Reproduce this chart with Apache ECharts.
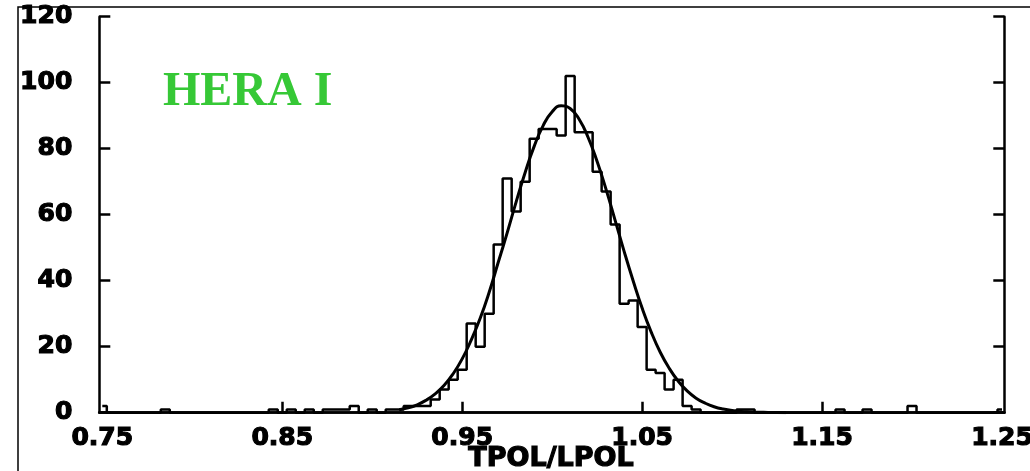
<!DOCTYPE html>
<html>
<head>
<meta charset="utf-8">
<script src="https://cdn.jsdelivr.net/npm/echarts@6/dist/echarts.min.js"></script>
<style>
  html, body { margin: 0; padding: 0; background: #fff; }
  #main { width: 1030px; height: 471px; }
</style>
</head>
<body>
<div id="main"></div>
<script>
// histogram: 101 bins of width 0.005, centres 0.75 ... 1.25
var binStart = 0.75;
var binWidth = 0.005;
var counts = [
  2, 0, 0, 0, 0, 0, 0, 1, 0, 0,
  0, 0, 0, 0, 0, 0, 0, 0, 0, 1,
  0, 1, 0, 1, 0, 1, 1, 1, 2, 0,
  1, 0, 1, 1, 2, 2, 2, 4, 7, 10,
  13, 27, 20, 30, 51, 71, 61, 70, 83, 86,
  86, 84, 102, 85, 85, 73, 67, 57, 33, 34,
  26, 13, 12, 7, 10, 2, 1, 0, 0, 0,
  0, 1, 1, 0, 0, 0, 0, 0, 0, 0,
  0, 0, 1, 0, 0, 1, 0, 0, 0, 0,
  2, 0, 0, 0, 0, 0, 0, 0, 0, 0,
  1
];

// fitted curve
var fitX = [0.915, 0.92, 0.925, 0.93, 0.935, 0.94, 0.945, 0.95, 0.955, 0.96,
            0.965, 0.97, 0.975, 0.98, 0.985, 0.99, 0.995, 1.0, 1.005, 1.01,
            1.015, 1.02, 1.025, 1.03, 1.035, 1.04, 1.045, 1.05, 1.055, 1.06,
            1.065, 1.07, 1.075, 1.08, 1.085, 1.09, 1.095, 1.1, 1.105, 1.11,
            1.115, 1.12, 1.125, 1.13];
var fitY = [0.9, 1.5, 2.4, 3.8, 5.7, 8.3, 11.8, 16.3, 22, 28.6,
            36.5, 45.5, 54.5, 63.9, 72.8, 80.7, 87, 91.2, 93, 92.2,
            88.9, 83.4, 76.1, 67.6, 58.3, 48.9, 40, 31.7, 24.5, 18.4,
            13.5, 9.6, 6.6, 4.4, 2.9, 1.8, 1.1, 0.7, 0.4, 0.25,
            0.15, 0.08, 0.04, 0];

var xLabels = [0.75, 0.85, 0.95, 1.05, 1.15, 1.25];
var xTicks = [0.85, 0.95, 1.05, 1.15];
var yTicks = [0, 20, 40, 60, 80, 100, 120];

var histData = [];
for (var i = 0; i < counts.length; i++) {
  histData.push([+(binStart + i * binWidth).toFixed(3), counts[i]]);
}
var fitData = [];
for (var j = 0; j < fitX.length; j++) {
  fitData.push([fitX[j], fitY[j]]);
}

var labelFont = {
  fontFamily: 'DejaVu Sans',
  fontWeight: 'bold',
  fontSize: 25,
  color: '#000',
  textBorderColor: '#000',
  textBorderWidth: 1.2
};
var frameLine = { show: true, lineStyle: { color: '#000', width: 2.5 } };
var tickLine = { color: '#000', width: 2.5 };

var myChart = echarts.init(document.getElementById('main'));
var option = {
  animation: false,
  backgroundColor: '#fff',
  grid: { left: 99.3, right: 25.7, top: 16.7, bottom: 58.3, outerBoundsMode: 'none', containLabel: false },
  xAxis: [
    {
      type: 'value',
      position: 'bottom',
      min: 0.74833,
      max: 1.25128,
      axisLine: frameLine,
      axisTick: { show: true, inside: true, length: 11, customValues: xTicks, lineStyle: tickLine },
      axisLabel: Object.assign({
        customValues: xLabels,
        margin: 13,
        formatter: function (v) { return v.toFixed(2); }
      }, labelFont),
      splitLine: { show: false }
    },
    {
      type: 'value',
      position: 'top',
      min: 0.74833,
      max: 1.25128,
      axisLine: frameLine,
      axisTick: { show: false },
      axisLabel: { show: false },
      splitLine: { show: false }
    }
  ],
  yAxis: [
    {
      type: 'value',
      position: 'left',
      min: 0,
      max: 120,
      interval: 20,
      axisLine: frameLine,
      axisTick: { show: true, inside: true, length: 11, customValues: yTicks, lineStyle: tickLine },
      axisLabel: Object.assign({ customValues: yTicks, margin: 27 }, labelFont),
      splitLine: { show: false }
    },
    {
      type: 'value',
      position: 'right',
      min: 0,
      max: 120,
      interval: 20,
      axisLine: frameLine,
      axisTick: { show: true, inside: true, length: 11, customValues: yTicks, lineStyle: tickLine },
      axisLabel: { show: false },
      splitLine: { show: false }
    }
  ],
  graphic: [
    {
      type: 'text',
      left: 163,
      top: 69,
      style: {
        text: 'HERA I',
        fill: '#36c836',
        font: 'bold 48px "Liberation Serif"'
      }
    },
    {
      // axis title
      type: 'text',
      x: 551,
      y: 445,
      style: {
        text: 'TPOL/LPOL',
        fill: '#000',
        stroke: '#000',
        lineWidth: 1.2,
        align: 'center',
        verticalAlign: 'top',
        font: 'bold 27px "DejaVu Sans"'
      }
    },
    {
      type: 'polyline',
      shape: { points: [[18, 471], [18, 7], [1030, 7]] },
      style: { stroke: '#000', lineWidth: 1.5, fill: null }
    }
  ],
  series: [
    {
      name: 'hist',
      type: 'line',
      step: 'middle',
      data: histData,
      showSymbol: false,
      lineStyle: { color: '#000', width: 2.5 },
      z: 2
    },
    {
      name: 'fit',
      type: 'line',
      smooth: true,
      data: fitData,
      showSymbol: false,
      lineStyle: { color: '#000', width: 3 },
      z: 3
    }
  ]
};
myChart.setOption(option);
</script>
</body>
</html>
